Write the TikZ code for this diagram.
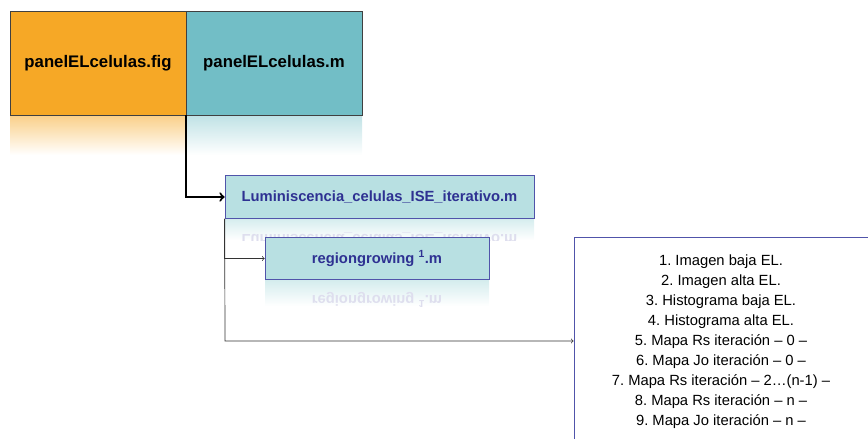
\documentclass[tikz,border=0pt]{standalone}
\usepackage{fontspec}
\setmainfont{Liberation Sans}
\usepackage{xcolor}
\usepackage{tikz}

\begin{document}
\frenchspacing
\begin{tikzpicture}[x=0.3mm, y=-0.3mm,
        topbox/.style={draw=black!75, line width=0.6pt, inner sep=0pt,
            minimum width=52.8mm, minimum height=31.2mm, font=\fontsize{14.3}{16}\selectfont\bfseries},
        filebox/.style={draw=lineblue, line width=0.6pt, fill=boxteal, inner sep=0pt,
            text=textblue, minimum height=12.7mm, font=\fontsize{12.6}{14}\selectfont\bfseries},
        mirror/.style={yscale=-1, text=textblue!16, font=\fontsize{12.6}{14}\selectfont\bfseries},
        link/.style={black!80, line width=0.6pt, ->}]
        % Define colors for the boxes
        \definecolor{figorange}{RGB}{246,168,38}
        \definecolor{mteal}{RGB}{114,190,198}
        \definecolor{boxteal}{RGB}{184,224,226}
        \definecolor{lineblue}{RGB}{80,84,170}
        \definecolor{textblue}{RGB}{46,49,146}

        \useasboundingbox (0,0) rectangle (868,439);
        \clip (0,0) rectangle (868,439);

        % 1. Reflections under the top boxes
        \shade[top color=figorange!55, bottom color=white] (10,115) rectangle (186,155);
        \shade[top color=mteal!45, bottom color=white] (186,115) rectangle (362,155);

        % 2. Top row: figure and script
        \node[topbox, fill=figorange] (fig) at (98,63) {panelELcelulas.fig};
        \node[topbox, fill=mteal] (mfile) at (274,63) {panelELcelulas.m};

        % 3. Main routine with its reflection
        \shade[top color=boxteal!60, bottom color=white] (225,218) rectangle (534,240);
        \begin{scope}
            \clip (225,218) rectangle (534,240);
            \node[mirror] at (379.5,239) {Luminiscencia\_celulas\_ISE\_iterativo.m};
        \end{scope}
        \node[filebox, minimum width=92.7mm] (lumin) at (379.5,197) {Luminiscencia\_celulas\_ISE\_iterativo.m};

        % 4. Region growing with its reflection
        \shade[top color=boxteal!60, bottom color=white] (265,280) rectangle (489,306);
        \begin{scope}
            \clip (265,280) rectangle (489,306);
            \node[mirror] at (377,300) {regiongrowing \textsuperscript{1}.m};
        \end{scope}
        \node[filebox, minimum width=67.2mm] (region) at (377,258.5) {regiongrowing \textsuperscript{1}.m};

        % 5. Output list
        \node[draw=lineblue, line width=0.8pt, inner sep=0pt, minimum width=88.2mm, minimum height=62.7mm,
            align=center, font=\fontsize{12.6}{17.1}\selectfont] (results) at (721,341.5)
            {1. Imagen baja EL.\\2. Imagen alta EL.\\3. Histograma baja EL.\\4. Histograma alta EL.\\
             5. Mapa Rs iteración -- 0 --\\6. Mapa Jo iteración -- 0 --\\
             7. Mapa Rs iteración -- 2\dots(n-1) --\\8. Mapa Rs iteración -- n --\\9. Mapa Jo iteración -- n --};

        % Connectors
        \draw[black, line width=1.8pt, ->] (mfile.south west) |- (lumin.west);
        \coordinate (bend) at (225,341);
        \draw[link] (lumin.south west) |- (region.west);
        \draw[link] (lumin.south west) -- (bend) -- (bend -| results.west);

    \end{tikzpicture}
\end{document}
